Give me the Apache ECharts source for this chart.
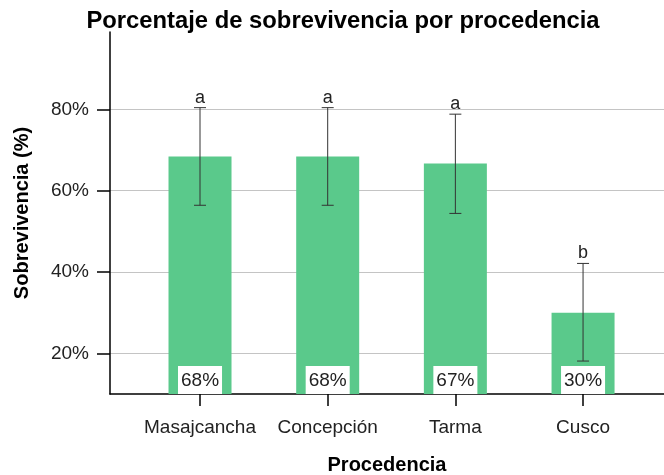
<!DOCTYPE html>
<html><head><meta charset="utf-8">
<script src="https://cdn.jsdelivr.net/npm/echarts@6/dist/echarts.min.js"></script>
<style>html,body{margin:0;padding:0;background:#fff}#c{width:664px;height:475px}</style>
</head><body><div id="c"></div>
<script>
const categories = ['Masajcancha', 'Concepción', 'Tarma', 'Cusco'];
const values = [68.4, 68.4, 66.7, 30.0];
const errLow = [56.4, 56.4, 54.4, 18.1];
const errHigh = [80.4, 80.4, 78.8, 42.1];
const valueLabels = ['68%', '68%', '67%', '30%'];
const groupLetters = ['a', 'a', 'a', 'b'];
const yTicks = [20, 40, 60, 80];

const FONT = '"Liberation Sans", Arial, sans-serif';
const chart = echarts.init(document.getElementById('c'), null, {renderer: 'canvas'});
const idx = categories.map((c, i) => i);

chart.setOption({
  animation: false,
  backgroundColor: '#fff',
  title: {
    text: 'Porcentaje de sobrevivencia por procedencia',
    left: 338, top: 4, textAlign: 'center',
    textStyle: {fontFamily: FONT, fontWeight: 'bold', fontSize: 23.8, color: '#000'}
  },
  grid: {left: 110, right: 0, top: 32, bottom: 81, containLabel: false, outerBoundsMode: 'none'},
  xAxis: {
    type: 'value', min: -0.705, max: 3.634,
    name: 'Procedencia', nameLocation: 'middle', nameGap: 61,
    nameTextStyle: {fontFamily: FONT, fontWeight: 'bold', fontSize: 20, color: '#000'},
    axisLine: {show: true, onZero: false, lineStyle: {color: '#000', width: 1.5}},
    axisTick: {show: true, length: 12, customValues: idx, lineStyle: {color: '#000', width: 1.5}},
    axisLabel: {customValues: idx, margin: 24, fontFamily: FONT, fontSize: 19, color: '#222',
      formatter: v => categories[Math.round(v)]},
    splitLine: {show: false}
  },
  yAxis: {
    type: 'value', min: 10, max: 99,
    name: 'Sobrevivencia (%)', nameLocation: 'middle', nameGap: 78,
    nameTextStyle: {fontFamily: FONT, fontWeight: 'bold', fontSize: 20, color: '#000'},
    axisLine: {show: true, onZero: false, lineStyle: {color: '#000', width: 1.5}},
    axisTick: {show: true, length: 13, customValues: yTicks, lineStyle: {color: '#000', width: 1.5}},
    axisLabel: {customValues: yTicks, margin: 21, fontFamily: FONT, fontSize: 19, color: '#222',
      formatter: v => v + '%'},
    splitLine: {show: true, lineStyle: {color: '#c4c4c4', width: 1}}
  },
  series: [
    {
      type: 'bar',
      barWidth: 63,
      data: values.map((v, i) => [i, v]),
      itemStyle: {color: '#5ac98b'},
      label: {
        show: true, position: 'insideBottom', distance: 0,
        formatter: p => valueLabels[p.dataIndex],
        fontFamily: FONT, fontSize: 19, color: '#222',
        backgroundColor: '#fff', padding: [5, 3, 4, 3]
      },
      z: 2
    },
    {
      type: 'custom',
      data: idx.map(i => [i, errLow[i], errHigh[i]]),
      renderItem: function (params, api) {
        const x = api.value(0);
        const lo = api.coord([x, api.value(1)]);
        const hi = api.coord([x, api.value(2)]);
        const cap = 6;
        const st = {stroke: '#333', lineWidth: 1};
        return {
          type: 'group',
          children: [
            {type: 'line', shape: {x1: lo[0], y1: lo[1], x2: hi[0], y2: hi[1]}, style: st},
            {type: 'line', shape: {x1: lo[0] - cap, y1: lo[1], x2: lo[0] + cap, y2: lo[1]}, style: st},
            {type: 'line', shape: {x1: hi[0] - cap, y1: hi[1], x2: hi[0] + cap, y2: hi[1]}, style: st},
            {type: 'text', style: {text: groupLetters[params.dataIndex], x: hi[0], y: hi[1] - 1,
              textAlign: 'center', textVerticalAlign: 'bottom', fill: '#222',
              font: '18px ' + FONT}}
          ]
        };
      },
      z: 3
    }
  ]
});
</script></body></html>
